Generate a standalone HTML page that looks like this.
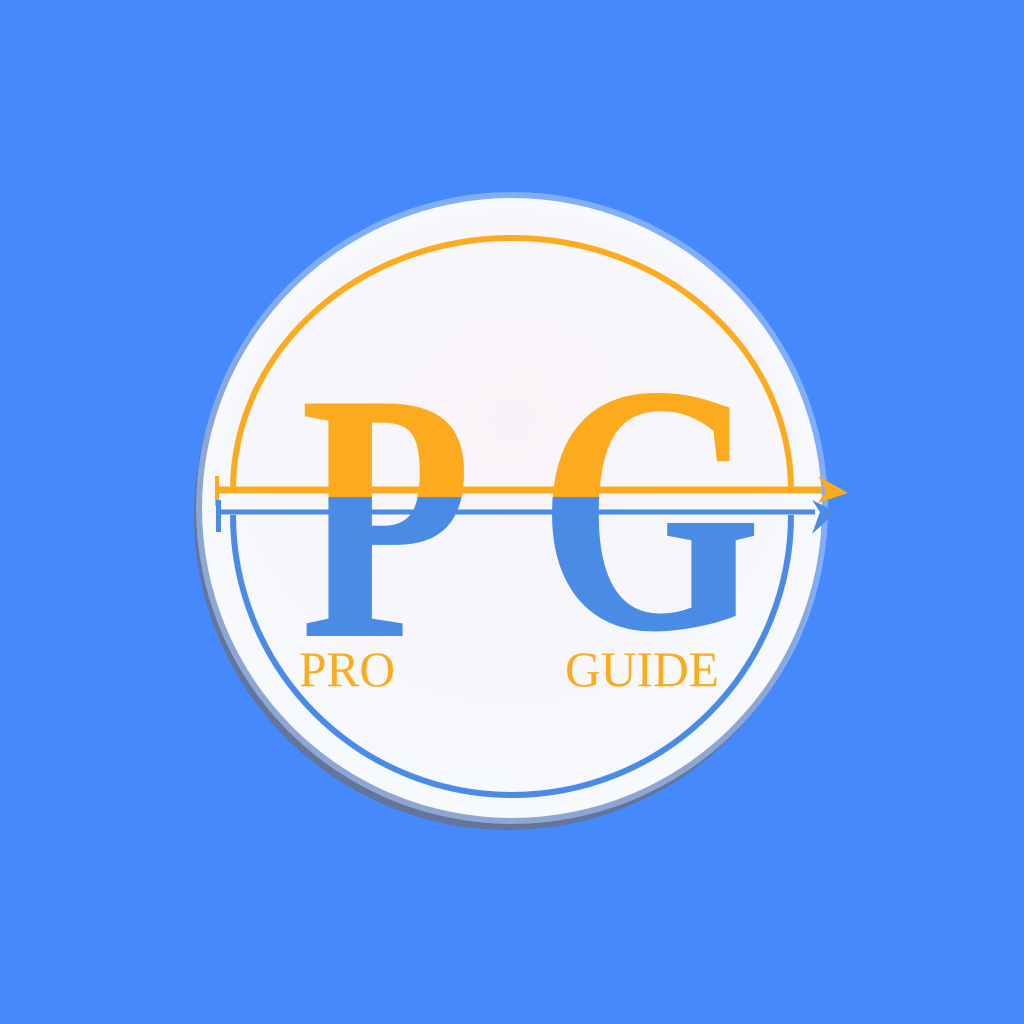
<!DOCTYPE html>
<html><head><meta charset="utf-8"><style>
html,body{margin:0;padding:0;background:#4589fd;}
svg{display:block}
</style></head><body>
<svg width="1024" height="1024" viewBox="0 0 1024 1024">
<defs>
<radialGradient id="face" cx="50%" cy="35%" r="65%">
<stop offset="0" stop-color="#f8f3f8"/><stop offset="1" stop-color="#f6f9fd"/>
</radialGradient>
<clipPath id="top"><rect x="0" y="0" width="1024" height="497"/></clipPath>
<clipPath id="bot"><rect x="0" y="497" width="1024" height="527"/></clipPath>
</defs>
<rect width="1024" height="1024" fill="#4589fd"/>
<circle cx="508" cy="516" r="314" fill="#6c7080" opacity="0.8"/>
<circle cx="512" cy="508" r="316" fill="#a9c7fb" opacity="0.6"/>
<circle cx="512" cy="508" r="310" fill="#f7f9fc"/>
<circle cx="512" cy="508" r="298" fill="url(#face)"/>
<path d="M233,490 A279,252 0 0 1 791,490" fill="none" stroke="#fcab1e" stroke-width="6"/>
<path d="M233,515 A279,280 0 0 0 791,515" fill="none" stroke="#4a8be6" stroke-width="6"/>
<g font-family="Liberation Serif, serif" font-weight="bold" font-size="355">
<g clip-path="url(#top)"><text x="300" y="636" fill="#fcab1e" textLength="172" lengthAdjust="spacingAndGlyphs">P</text><text x="538" y="628" fill="#fcab1e" textLength="224" lengthAdjust="spacingAndGlyphs">G</text></g>
<g clip-path="url(#bot)"><text x="300" y="636" fill="#4a8be6" textLength="172" lengthAdjust="spacingAndGlyphs">P</text><text x="538" y="628" fill="#4a8be6" textLength="224" lengthAdjust="spacingAndGlyphs">G</text></g>
</g>
<line x1="218" y1="490" x2="822" y2="490" stroke="#fcab1e" stroke-width="7"/>
<polygon points="818,476 848,493 818,503 826,491" fill="#fcab1e"/>
<rect x="215" y="476" width="4" height="30" fill="#fcab1e"/>
<line x1="218" y1="512" x2="815" y2="512" stroke="#4a8be6" stroke-width="5"/>
<polygon points="812,500 836,512 812,534 820,512" fill="#4a8be6"/>
<rect x="216" y="500" width="5" height="32" fill="#4a8be6"/>
<text x="299" y="686" font-family="Liberation Serif, serif" font-size="50" fill="#fcab1e" textLength="96" lengthAdjust="spacingAndGlyphs">PRO</text>
<text x="565" y="686" font-family="Liberation Serif, serif" font-size="50" fill="#fcab1e" textLength="154" lengthAdjust="spacingAndGlyphs">GUIDE</text>
</svg>
</body></html>
